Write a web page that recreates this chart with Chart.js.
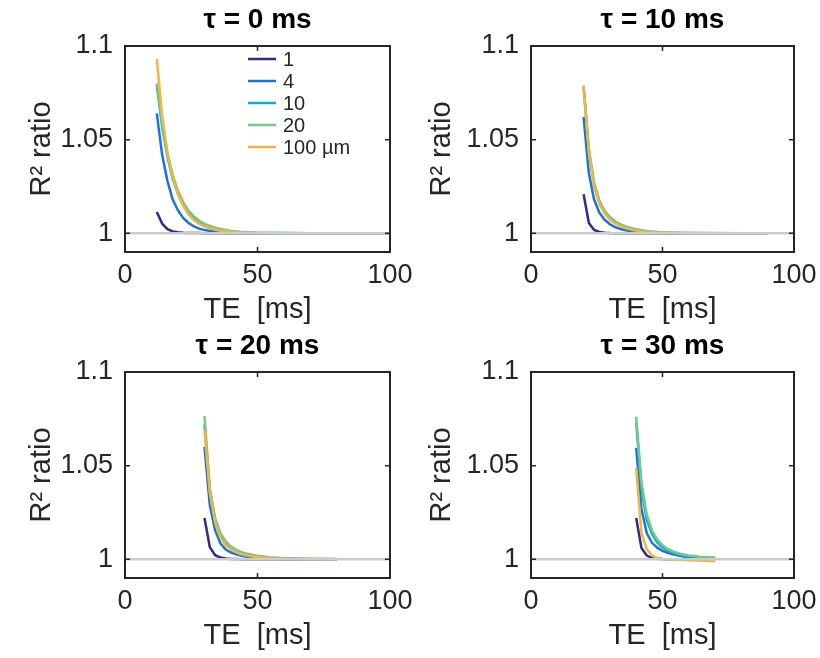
<!DOCTYPE html>
<html>
<head>
<meta charset="utf-8">
<script src="https://cdn.jsdelivr.net/npm/chart.js@4.4.1/dist/chart.umd.min.js"></script>
<style>
  body { margin: 0; background: #fff; width: 820px; height: 658px; position: relative; overflow: hidden; }
  canvas { position: absolute; }
</style>
</head>
<body>
<canvas id="p0" width="430" height="329" style="left:0;top:0"></canvas>
<canvas id="p1" width="430" height="329" style="left:400px;top:0"></canvas>
<canvas id="p2" width="430" height="329" style="left:0;top:329px"></canvas>
<canvas id="p3" width="430" height="329" style="left:400px;top:329px"></canvas>
<script>
// legend entries (radius) and line colours
const radiusLabels = ['1', '4', '10', '20', '100 µm'];
const radiusColors = ['#2f2a8c', '#1a74dc', '#0cb0cf', '#78c68a', '#f3b53c'];
const panelTitles = ['τ = 0 ms', 'τ = 10 ms', 'τ = 20 ms', 'τ = 30 ms'];
const xTicks = [0, 50, 100];
const yTicks = [1, 1.05, 1.1];
const refTE = [0, 100];
const refRatio = [1, 1];

// tau = 0 ms
const teTau0 = [12, 14, 16, 18, 20, 22, 24, 26, 28, 30, 35, 40, 45, 50, 60, 70, 80, 90, 100];
const r1Tau0 = [1.0114, 1.0052, 1.0022, 1.0010, 1.0005, 1.0003, 1.0002, 1.0001, 1.0001, 1.0000, 1.0000, 1.0000, 1.0000, 1.0000, 1.0000, 1.0000, 1.0000, 1.0000, 1.0000];
const r4Tau0 = [1.064, 1.042, 1.028, 1.018, 1.0122, 1.0080, 1.0055, 1.0037, 1.0025, 1.0017, 1.0006, 1.0002, 1.0001, 1.0000, 1.0000, 1.0000, 1.0000, 1.0000, 1.0000];
const r10Tau0 = [1.079, 1.057, 1.041, 1.029, 1.021, 1.015, 1.0108, 1.0078, 1.0057, 1.0042, 1.0020, 1.0009, 1.0004, 1.0002, 1.0001, 1.0000, 1.0000, 1.0000, 1.0000];
const r20Tau0 = [1.080, 1.059, 1.043, 1.031, 1.0225, 1.0165, 1.0120, 1.0090, 1.0067, 1.0050, 1.0025, 1.0012, 1.0006, 1.0003, 1.0001, 1.0000, 1.0000, 1.0000, 1.0000];
const r100Tau0 = [1.093, 1.063, 1.043, 1.030, 1.021, 1.0145, 1.0100, 1.0070, 1.0050, 1.0036, 1.0016, 1.0007, 1.0003, 1.0001, 1.0000, 1.0000, 1.0000, 1.0000, 1.0000];

// tau = 10 ms
const teTau10 = [20, 22, 24, 26, 28, 30, 32, 34, 36, 38, 40, 45, 50, 55, 60, 70, 80, 90];
const r1Tau10 = [1.0208, 1.0055, 1.0018, 1.0007, 1.0003, 1.0001, 1.0000, 1.0000, 1.0000, 1.0000, 1.0000, 1.0000, 1.0000, 1.0000, 1.0000, 1.0000, 1.0000, 1.0000];
const r4Tau10 = [1.062, 1.032, 1.018, 1.011, 1.0072, 1.0048, 1.0033, 1.0023, 1.0016, 1.0011, 1.0008, 1.0003, 1.0001, 1.0000, 1.0000, 1.0000, 1.0000, 1.0000];
const r10Tau10 = [1.078, 1.044, 1.026, 1.0165, 1.011, 1.0079, 1.0057, 1.0042, 1.0032, 1.0024, 1.0017, 1.0008, 1.0004, 1.0002, 1.0001, 1.0000, 1.0000, 1.0000];
const r20Tau10 = [1.079, 1.045, 1.027, 1.0175, 1.012, 1.0087, 1.0064, 1.0048, 1.0037, 1.0028, 1.0021, 1.0010, 1.0005, 1.0003, 1.0002, 1.0001, 1.0000, 1.0000];
const r100Tau10 = [1.0785, 1.043, 1.025, 1.0155, 1.0105, 1.0072, 1.0052, 1.0038, 1.0028, 1.0020, 1.0014, 1.0006, 1.0003, 1.0001, 1.0000, 1.0000, 1.0000, 1.0000];

// tau = 20 ms
const teTau20 = [30, 32, 34, 36, 38, 40, 42, 44, 46, 48, 50, 55, 60, 65, 70, 75, 80];
const r1Tau20 = [1.022, 1.0065, 1.0022, 1.0009, 1.0004, 1.0002, 1.0001, 1.0000, 1.0000, 1.0000, 1.0000, 1.0000, 1.0000, 1.0000, 1.0000, 1.0000, 1.0000];
const r4Tau20 = [1.060, 1.029, 1.0155, 1.0085, 1.0052, 1.0036, 1.0026, 1.0019, 1.0014, 1.0011, 1.0008, 1.0004, 1.0002, 1.0001, 1.0000, 1.0000, 1.0000];
const r10Tau20 = [1.072, 1.037, 1.021, 1.013, 1.0088, 1.0062, 1.0045, 1.0034, 1.0026, 1.0020, 1.0016, 1.0008, 1.0004, 1.0002, 1.0001, 1.0001, 1.0000];
const r20Tau20 = [1.0765, 1.038, 1.022, 1.014, 1.0095, 1.0068, 1.0050, 1.0038, 1.0030, 1.0024, 1.0019, 1.0010, 1.0006, 1.0004, 1.0002, 1.0001, 1.0001];
const r100Tau20 = [1.069, 1.0355, 1.0195, 1.0115, 1.0075, 1.0052, 1.0037, 1.0027, 1.0020, 1.0015, 1.0012, 1.0006, 1.0003, 1.0002, 1.0001, 1.0001, 1.0001];

// tau = 30 ms
const teTau30 = [40, 42, 44, 46, 48, 50, 52, 54, 56, 58, 60, 62, 64, 66, 68, 70];
const r1Tau30 = [1.022, 1.006, 1.002, 1.0008, 1.0003, 1.0001, 1.0000, 1.0000, 1.0000, 1.0000, 1.0000, 1.0000, 1.0000, 1.0000, 1.0000, 1.0000];
const r4Tau30 = [1.0595, 1.027, 1.014, 1.0088, 1.0062, 1.0045, 1.0034, 1.0026, 1.0020, 1.0015, 1.0012, 1.0010, 1.0008, 1.0007, 1.0006, 1.0005];
const r10Tau30 = [1.073, 1.038, 1.021, 1.0135, 1.0090, 1.0063, 1.0046, 1.0034, 1.0026, 1.0020, 1.0016, 1.0013, 1.0011, 1.0009, 1.0008, 1.0007];
const r20Tau30 = [1.076, 1.041, 1.024, 1.0155, 1.0105, 1.0075, 1.0055, 1.0042, 1.0032, 1.0025, 1.0020, 1.0017, 1.0014, 1.0012, 1.0010, 1.0009];
const r100Tau30 = [1.0488, 1.014, 1.0055, 1.0020, 1.0006, 1.0001, 0.9999, 0.9998, 0.9997, 0.9996, 0.9995, 0.9994, 0.9993, 0.9992, 0.9991, 0.9990];

const FONT = "'Liberation Sans', Arial, sans-serif";
const INK = '#262626';

// box = chart area inside each 430x329 canvas
const panels = [
  { id: 'p0', te: teTau0, rows: [r1Tau0, r4Tau0, r10Tau0, r20Tau0, r100Tau0], box: { l: 125, t: 46, r: 390, b: 252 }, xTitleBottom: 2, legend: true },
  { id: 'p1', te: teTau10, rows: [r1Tau10, r4Tau10, r10Tau10, r20Tau10, r100Tau10], box: { l: 131, t: 46, r: 394, b: 252 }, xTitleBottom: 2, legend: false },
  { id: 'p2', te: teTau20, rows: [r1Tau20, r4Tau20, r10Tau20, r20Tau20, r100Tau20], box: { l: 125, t: 43, r: 390, b: 249 }, xTitleBottom: 5, legend: false },
  { id: 'p3', te: teTau30, rows: [r1Tau30, r4Tau30, r10Tau30, r20Tau30, r100Tau30], box: { l: 131, t: 43, r: 394, b: 249 }, xTitleBottom: 5, legend: false }
];

// box, inward ticks, title and legend (matlab look)
const framePlugin = {
  id: 'frame',
  afterDraw(chart, args, opts) {
    const { ctx, chartArea: a, scales } = chart;
    ctx.save();
    ctx.strokeStyle = INK;
    ctx.lineWidth = 2;
    ctx.strokeRect(a.left, a.top, a.right - a.left, a.bottom - a.top);
    ctx.lineWidth = 1.5;
    const tl = 5;
    scales.x.ticks.forEach(t => {
      const px = scales.x.getPixelForValue(t.value);
      ctx.beginPath();
      ctx.moveTo(px, a.bottom); ctx.lineTo(px, a.bottom - tl);
      ctx.moveTo(px, a.top); ctx.lineTo(px, a.top + tl);
      ctx.stroke();
    });
    scales.y.ticks.forEach(t => {
      const py = scales.y.getPixelForValue(t.value);
      ctx.beginPath();
      ctx.moveTo(a.left, py); ctx.lineTo(a.left + tl, py);
      ctx.moveTo(a.right, py); ctx.lineTo(a.right - tl, py);
      ctx.stroke();
    });

    ctx.fillStyle = '#000';
    ctx.font = 'bold 28px ' + FONT;
    ctx.textAlign = 'center';
    ctx.textBaseline = 'middle';
    ctx.fillText(opts.title, (a.left + a.right) / 2, a.top - 26);

    if (opts.legend) {
      ctx.font = '20px ' + FONT;
      ctx.textAlign = 'left';
      ctx.fillStyle = INK;
      ctx.lineWidth = 2.5;
      chart.data.datasets.slice(0, radiusLabels.length).forEach((ds, i) => {
        const y = 59 + i * 22;
        ctx.strokeStyle = ds.borderColor;
        ctx.beginPath();
        ctx.moveTo(248, y); ctx.lineTo(276, y);
        ctx.stroke();
        ctx.fillText(ds.label, 283, y + 1);
      });
    }
    ctx.restore();
  }
};

function makePanel(p, idx) {
  const datasets = p.rows.map((vals, i) => ({
    label: radiusLabels[i],
    data: p.te.map((t, j) => ({ x: t, y: vals[j] })),
    borderColor: radiusColors[i],
    borderWidth: 2.5,
    pointRadius: 0,
    tension: 0,
    fill: false,
    order: radiusLabels.length - i
  }));
  datasets.push({
    label: 'ref',
    data: refTE.map((t, j) => ({ x: t, y: refRatio[j] })),
    borderColor: '#cccccc',
    borderWidth: 2.5,
    pointRadius: 0,
    order: 0
  });

  const H = 329, W = 430;
  return new Chart(document.getElementById(p.id), {
    type: 'line',
    data: { datasets },
    options: {
      responsive: false,
      animation: false,
      events: [],
      layout: { padding: { top: p.box.t, right: W - p.box.r, left: 0, bottom: 0 } },
      scales: {
        x: {
          type: 'linear',
          min: 0,
          max: 100,
          afterBuildTicks: s => { s.ticks = xTicks.map(v => ({ value: v })); },
          afterFit: s => { s.height = H - p.box.b; },
          grid: { display: false, drawTicks: false },
          border: { display: false },
          ticks: { color: INK, font: { family: FONT, size: 27 }, padding: 7, maxRotation: 0, autoSkip: false },
          title: { display: true, text: 'TE  [ms]', color: INK, font: { family: FONT, size: 29 }, padding: { top: 0, bottom: p.xTitleBottom } }
        },
        y: {
          min: 0.99,
          max: 1.1,
          afterBuildTicks: s => { s.ticks = yTicks.map(v => ({ value: v })); },
          afterFit: s => { s.width = p.box.l; },
          grid: { display: false, drawTicks: false },
          border: { display: false },
          ticks: { color: INK, font: { family: FONT, size: 27 }, padding: 12, callback: v => String(v) },
          title: { display: true, text: 'R² ratio', color: INK, font: { family: FONT, size: 29 }, padding: { top: 25, bottom: 0 } }
        }
      },
      plugins: {
        legend: { display: false },
        tooltip: { enabled: false },
        frame: { title: panelTitles[idx], legend: p.legend }
      }
    },
    plugins: [framePlugin]
  });
}

panels.forEach(makePanel);
</script>
</body>
</html>
